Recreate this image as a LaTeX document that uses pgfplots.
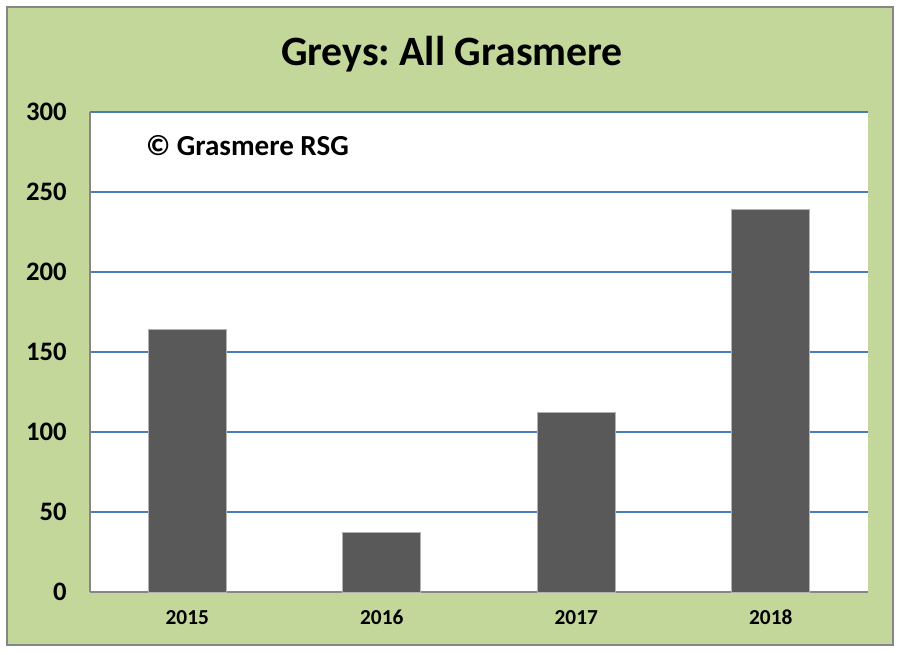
\documentclass[border=0pt]{standalone}
\usepackage{pgfplots}
\pgfplotsset{compat=1.18}
\usepackage{fontspec}
\setmainfont{Carlito}
\definecolor{bggreen}{HTML}{C4D79B}
\definecolor{bargray}{HTML}{595959}
\definecolor{gridblue}{HTML}{4A7EBB}
\definecolor{axgray}{HTML}{868686}
\begin{document}
\begin{tikzpicture}
\fill[white] (0pt,0pt) rectangle (672.75pt,489pt);
\filldraw[fill=bggreen,draw=axgray,line width=1.5pt] (5.25pt,5.25pt) rectangle (669.75pt,483.75pt);
\node[font=\bfseries\fontsize{31.3}{36}\selectfont] at (339pt,448.5pt) {Greys:\ All Grasmere};
\begin{axis}[
  at={(67.5pt,45pt)}, anchor=south west,
  scale only axis, width=583.5pt, height=360pt,
  xmin=-0.5, xmax=3.5, ymin=0, ymax=300,
  ytick={0,50,...,300},
  xtick={0,1,2,3}, xticklabels={2015,2016,2017,2018},
  axis x line=bottom, axis y line=left,
  axis line style={draw=axgray,line width=1pt,-},
  major tick length=0pt,
  axis background/.style={fill=white},
  ymajorgrids, grid style={gridblue,line width=0.9pt},
  /pgf/number format/assume math mode=true,
  yticklabel style={font=\bfseries\fontsize{20}{24}\selectfont, anchor=east, xshift=-14pt},
  xticklabel style={font=\bfseries\fontsize{16}{19}\selectfont, anchor=north, yshift=-10pt},
  clip=false,
]
\addplot[ybar, bar width=0.4, fill=bargray, draw=gray!60, line width=0.6pt]
  coordinates {(0,164) (1,37) (2,112) (3,239)};
\node[anchor=west, font=\bfseries\fontsize{21.8}{25}\selectfont] at (rel axis cs:0.066,0.93) {© Grasmere RSG};
\end{axis}
\end{tikzpicture}
\end{document}
